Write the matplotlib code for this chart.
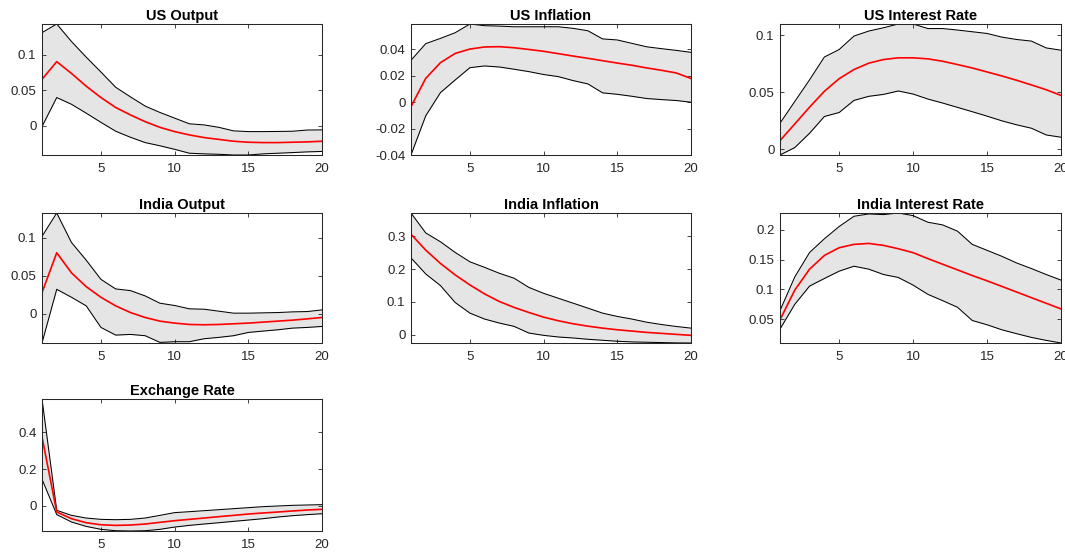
import matplotlib
matplotlib.use("Agg")
import matplotlib.pyplot as plt
import numpy as np

plt.rcParams['font.family'] = ['Liberation Sans', 'DejaVu Sans']

# --- Data ---

horizon = np.arange(1, 21)

us_output_hi = [0.1315, 0.1437, 0.119, 0.097, 0.076, 0.0545, 0.041, 0.028, 0.019, 0.011,
                0.003, 0.0014, -0.002, -0.007, -0.008, -0.008, -0.0078, -0.0075, -0.0058, -0.0056]
us_output_md = [0.0657, 0.0906, 0.074, 0.056, 0.040, 0.026, 0.0155, 0.006, -0.002, -0.008,
                -0.0127, -0.0164, -0.019, -0.0216, -0.023, -0.0235, -0.0235, -0.023, -0.0225, -0.0216]
us_output_lo = [-0.001, 0.040, 0.0305, 0.018, 0.005, -0.0075, -0.016, -0.0235, -0.028, -0.033,
                -0.0385, -0.0394, -0.040, -0.041, -0.041, -0.0394, -0.0385, -0.0376, -0.0366, -0.036]

us_infl_hi = [0.0318, 0.0444, 0.0484, 0.0527, 0.0593, 0.058, 0.0577, 0.0572, 0.0572, 0.0572,
              0.0572, 0.056, 0.0542, 0.048, 0.0472, 0.0446, 0.042, 0.0406, 0.0393, 0.0378]
us_infl_md = [-0.0033, 0.0181, 0.030, 0.037, 0.0403, 0.0419, 0.0421, 0.0413, 0.040, 0.0386,
              0.0368, 0.035, 0.0333, 0.0315, 0.0297, 0.028, 0.026, 0.0242, 0.0222, 0.018]
us_infl_lo = [-0.040, -0.0103, 0.0073, 0.0169, 0.0262, 0.0275, 0.0267, 0.025, 0.0232, 0.021,
              0.0194, 0.0164, 0.0139, 0.0071, 0.006, 0.0045, 0.0028, 0.002, 0.0013, 0.0]

us_rate_hi = [0.0229, 0.042, 0.061, 0.081, 0.0876, 0.0994, 0.1038, 0.1067, 0.110, 0.110,
              0.106, 0.106, 0.1047, 0.1032, 0.1017, 0.0985, 0.0964, 0.095, 0.089, 0.087]
us_rate_md = [0.0076, 0.0223, 0.037, 0.0509, 0.062, 0.070, 0.0756, 0.0788, 0.0803, 0.0803,
              0.0794, 0.0773, 0.0744, 0.0714, 0.0679, 0.0644, 0.0606, 0.0565, 0.0523, 0.0473]
us_rate_lo = [-0.005, 0.0015, 0.0141, 0.0288, 0.0323, 0.0429, 0.0465, 0.0482, 0.0512, 0.0485,
              0.0441, 0.0406, 0.0368, 0.033, 0.0291, 0.025, 0.0215, 0.0185, 0.0126, 0.0106]

in_output_hi = [0.102, 0.1328, 0.094, 0.0707, 0.0454, 0.0328, 0.0306, 0.0236, 0.014, 0.011,
                0.0066, 0.0061, 0.0035, 0.0009, 0.0009, 0.0013, 0.0017, 0.0026, 0.003, 0.0052]
in_output_md = [0.028, 0.0804, 0.054, 0.0358, 0.0218, 0.0105, 0.0017, -0.0048, -0.0096, -0.0122,
                -0.014, -0.0144, -0.014, -0.0131, -0.0122, -0.0109, -0.0096, -0.0083, -0.0066, -0.0048]
in_output_lo = [-0.0384, 0.0323, 0.0218, 0.0105, -0.0179, -0.028, -0.0271, -0.0288, -0.0376, -0.0367,
                -0.0367, -0.0328, -0.031, -0.0288, -0.0245, -0.0227, -0.021, -0.0188, -0.0179, -0.0166]

in_infl_hi = [0.3707, 0.310, 0.283, 0.2505, 0.222, 0.205, 0.187, 0.172, 0.144, 0.126,
              0.111, 0.096, 0.081, 0.0657, 0.0556, 0.0475, 0.038, 0.031, 0.025, 0.020]
in_infl_md = [0.306, 0.2576, 0.217, 0.182, 0.1515, 0.124, 0.101, 0.083, 0.0677, 0.0535,
              0.0424, 0.0333, 0.026, 0.020, 0.015, 0.011, 0.007, 0.004, 0.001, -0.002]
in_infl_lo = [0.234, 0.185, 0.1495, 0.098, 0.0657, 0.0475, 0.0354, 0.0253, 0.005, -0.002,
              -0.007, -0.010, -0.014, -0.017, -0.020, -0.022, -0.023, -0.024, -0.025, -0.0253]

in_rate_hi = [0.0644, 0.121, 0.162, 0.185, 0.2056, 0.2228, 0.2267, 0.2256, 0.2283, 0.2239,
              0.2128, 0.2083, 0.1978, 0.1756, 0.1656, 0.1556, 0.1444, 0.135, 0.125, 0.1156]
in_rate_md = [0.0489, 0.0989, 0.134, 0.157, 0.170, 0.1756, 0.1772, 0.1739, 0.1683, 0.1617,
              0.1517, 0.1422, 0.1328, 0.1233, 0.1144, 0.105, 0.0956, 0.0861, 0.0767, 0.0672]
in_rate_lo = [0.0333, 0.075, 0.1056, 0.1183, 0.1306, 0.1389, 0.134, 0.125, 0.120, 0.1072,
              0.0917, 0.0811, 0.070, 0.0478, 0.0406, 0.0322, 0.0256, 0.0194, 0.0144, 0.010]

fx_hi = [0.582, -0.0236, -0.051, -0.0655, -0.0727, -0.0745, -0.0727, -0.0655, -0.051, -0.036,
         -0.031, -0.0255, -0.02, -0.0145, -0.009, -0.0036, 0.0, 0.0036, 0.0055, 0.0073]
fx_md = [0.376, -0.0327, -0.069, -0.091, -0.102, -0.1055, -0.1036, -0.098, -0.089, -0.080,
         -0.0727, -0.0655, -0.058, -0.051, -0.0436, -0.038, -0.0327, -0.027, -0.022, -0.018]
fx_lo = [0.1455, -0.047, -0.087, -0.111, -0.127, -0.1345, -0.136, -0.1345, -0.127, -0.1145,
         -0.1055, -0.098, -0.091, -0.0836, -0.0764, -0.069, -0.06, -0.0527, -0.047, -0.042]

titles = ["US Output", "US Inflation", "US Interest Rate",
          "India Output", "India Inflation", "India Interest Rate",
          "Exchange Rate"]

bands = [
    (us_output_lo, us_output_md, us_output_hi),
    (us_infl_lo, us_infl_md, us_infl_hi),
    (us_rate_lo, us_rate_md, us_rate_hi),
    (in_output_lo, in_output_md, in_output_hi),
    (in_infl_lo, in_infl_md, in_infl_hi),
    (in_rate_lo, in_rate_md, in_rate_hi),
    (fx_lo, fx_md, fx_hi),
]

ytick_vals = [
    [0, 0.05, 0.1],
    [-0.04, -0.02, 0, 0.02, 0.04],
    [0, 0.05, 0.1],
    [0, 0.05, 0.1],
    [0, 0.1, 0.2, 0.3],
    [0.05, 0.1, 0.15, 0.2],
    [0, 0.2, 0.4],
]
ytick_labels = [
    ["0", "0.05", "0.1"],
    ["-0.04", "-0.02", "0", "0.02", "0.04"],
    ["0", "0.05", "0.1"],
    ["0", "0.05", "0.1"],
    ["0", "0.1", "0.2", "0.3"],
    ["0.05", "0.1", "0.15", "0.2"],
    ["0", "0.2", "0.4"],
]
xtick_vals = [5, 10, 15, 20]

# --- Layout (pixels in a 1065x552 figure) ---

W, H = 1065, 552
col_left = [42, 411, 780]
col_width = [280, 280, 281]
row_top = [24, 213, 399]
row_bot = [155, 343, 531]

fig = plt.figure(figsize=(W / 100, H / 100), dpi=100)

axis_col = "#262626"

for i, title in enumerate(titles):
    r, c = divmod(i, 3)
    rect = [col_left[c] / W, 1 - row_bot[r] / H, col_width[c] / W, (row_bot[r] - row_top[r]) / H]
    ax = fig.add_axes(rect)
    lo, md, hi = bands[i]

    ax.fill_between(horizon, lo, hi, color="#e5e5e5", linewidth=0)
    ax.plot(horizon, hi, color="black", linewidth=0.75)
    ax.plot(horizon, lo, color="black", linewidth=0.75)
    ax.plot(horizon, md, color="red", linewidth=1.2)

    ax.set_xlim(1, 20)
    ax.set_ylim(min(lo), max(hi))
    ax.set_xticks(xtick_vals)
    ax.set_xticklabels([str(v) for v in xtick_vals])
    ax.set_yticks(ytick_vals[i])
    ax.set_yticklabels(ytick_labels[i])

    ax.tick_params(direction="in", length=3, width=0.6, colors=axis_col,
                   labelsize=9.5, top=True, right=True)
    ax.tick_params(axis="x", pad=6)
    ax.tick_params(axis="y", pad=4)
    for sp in ax.spines.values():
        sp.set_color(axis_col)
        sp.set_linewidth(0.75)

    ax.set_title(title, fontsize=10.5, fontweight="bold", pad=3)

fig.savefig("out.png", dpi=100)
plt.close(fig)
